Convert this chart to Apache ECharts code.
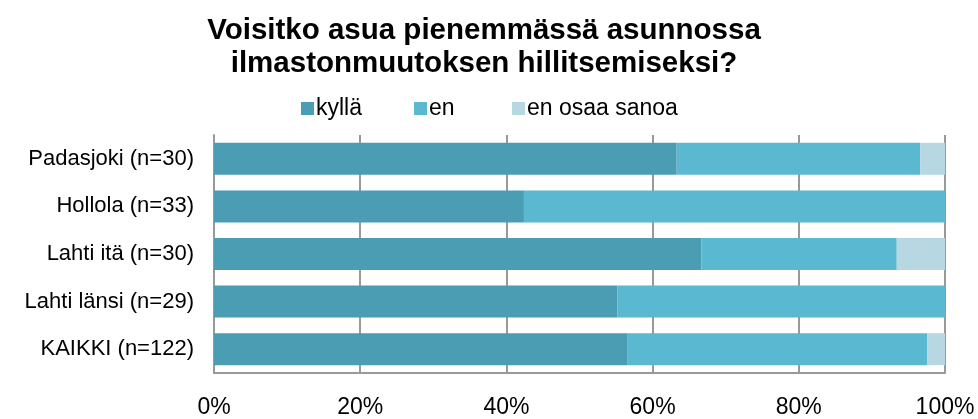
<!DOCTYPE html>
<html><head><meta charset="utf-8">
<script src="https://cdn.jsdelivr.net/npm/echarts@6/dist/echarts.min.js"></script>
<style>html,body{margin:0;padding:0;background:#fff}#c{width:978px;height:419px}</style>
</head><body><div id="c"></div>
<script>
const categories = ["Padasjoki (n=30)", "Hollola (n=33)", "Lahti itä (n=30)", "Lahti länsi (n=29)", "KAIKKI (n=122)"];
const kylla = [63.3, 42.4, 66.7, 55.2, 56.6];
const en = [33.3, 57.6, 26.7, 44.8, 41.0];
const eos = [3.4, 0, 6.6, 0, 2.4];
const seriesNames = ["kyllä", "en", "en osaa sanoa"];
const colors = ["#4A9DB3", "#5BB8D1", "#B7D8E3"];
const font = "'Liberation Sans', Arial, sans-serif";
const chart = echarts.init(document.getElementById('c'));
const mk = (name, data, i) => ({
  name, type: 'bar', stack: 'a', data, barWidth: 32,
  itemStyle: { color: colors[i] }, emphasis: { disabled: true }
});
const legendLeft = [296, 409, 507];
chart.setOption({
  animation: false,
  title: {
    text: "Voisitko asua pienemmässä asunnossa\nilmastonmuutoksen hillitsemiseksi?",
    left: 479, top: 9, textAlign: 'center',
    textStyle: { fontFamily: font, fontSize: 29.5, fontWeight: 'bold', color: '#000', lineHeight: 33 }
  },
  legend: seriesNames.map((n, i) => ({
    data: [n], top: 92, left: legendLeft[i], itemWidth: 13, itemHeight: 13,
    icon: 'rect',
    textStyle: { fontFamily: font, fontSize: 23, color: '#000', padding: [0, 0, 0, -3] }
  })),
  grid: { left: 214, right: 33, top: 135, bottom: 41, containLabel: false },
  xAxis: {
    type: 'value', min: 0, max: 100, interval: 20,
    axisLabel: { formatter: '{value}%', fontFamily: font, fontSize: 23, color: '#000', margin: 23 },
    axisLine: { show: true, lineStyle: { color: '#999', width: 2 } },
    axisTick: { show: true, length: 8, inside: true, lineStyle: { color: '#999', width: 2 } },
    splitLine: { show: true, lineStyle: { color: '#999', width: 2 } }
  },
  yAxis: {
    type: 'category', data: categories, inverse: true,
    axisLine: { show: true, lineStyle: { color: '#999', width: 2 } },
    axisTick: { show: false },
    axisLabel: { fontFamily: font, fontSize: 22, color: '#000', margin: 20 }
  },
  series: [mk(seriesNames[0], kylla, 0), mk(seriesNames[1], en, 1), mk(seriesNames[2], eos, 2)]
});
</script></body></html>
